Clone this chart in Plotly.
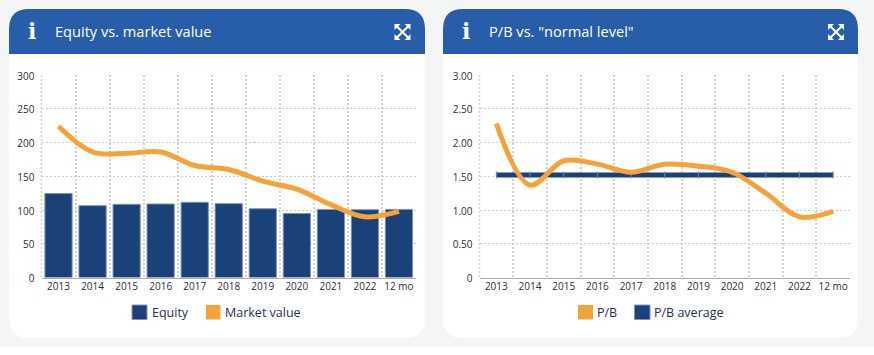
import plotly.graph_objects as go

categories = ["2013","2014","2015","2016","2017","2018","2019","2020","2021","2022","12 mo"]
equity = [124.5,106.5,108.5,109,111.5,109.5,102,95,101,100.5,101]
market_value = [224,186,184,186,166,160,143,131,108,90,98]
pb = [2.28,1.37,1.73,1.68,1.56,1.68,1.65,1.56,1.25,0.90,0.98]
pb_average = [1.52]*11
left_ticks = [0,50,100,150,200,250,300]
right_ticks = [0,0.5,1,1.5,2,2.5,3]
right_labels = ["0","0.50","1.00","1.50","2.00","2.50","3.00"]

W,H = 874,355
NAVY,ORANGE,HEAD = "#1a4178","#f4a33a","#275da9"
FONT = "Open Sans"
px = lambda v: v/W
py = lambda v: 1-v/H

def rect(x0,y0,x1,y1,fill,line=None):
    return dict(type="rect",xref="paper",yref="paper",x0=px(x0),x1=px(x1),y0=py(y0),y1=py(y1),
                fillcolor=fill,line=dict(color=line or fill,width=1 if line else 0),layer="below")

def rounded(x0,y0,x1,y1,rt,rb,fill):
    f = lambda x,y: f"{px(x)},{py(y)}"
    p = (f"M{f(x0+rt,y0)} L{f(x1-rt,y0)} Q{f(x1,y0)} {f(x1,y0+rt)} L{f(x1,y1-rb)} Q{f(x1,y1)} {f(x1-rb,y1)} "
         f"L{f(x0+rb,y1)} Q{f(x0,y1)} {f(x0,y1-rb)} L{f(x0,y0+rt)} Q{f(x0,y0)} {f(x0+rt,y0)} Z")
    return dict(type="path",xref="paper",yref="paper",path=p,fillcolor=fill,line=dict(width=0),layer="below")

def seg(x0,y0,x1,y1,w=2):
    return dict(type="line",xref="paper",yref="paper",x0=px(x0),x1=px(x1),y0=py(y0),y1=py(y1),
                line=dict(color="white",width=w),layer="above")

def tri(pts):
    f = lambda x,y: f"{px(x)},{py(y)}"
    return dict(type="path",xref="paper",yref="paper",
                path="M"+" L".join(f(*p) for p in pts)+" Z",fillcolor="white",line=dict(width=0),layer="above")

def expand(cx,cy):
    r=8
    out=[seg(cx-r+1,cy-r+1,cx+r-1,cy+r-1),seg(cx-r+1,cy+r-1,cx+r-1,cy-r+1)]
    for sx in (-1,1):
        for sy in (-1,1):
            out.append(tri([(cx+sx*r,cy+sy*r),(cx+sx*(r-6),cy+sy*r),(cx+sx*r,cy+sy*(r-6))]))
    return out

shapes=[rect(0,0,W,347,"#f4f6f6"),rect(0,347,W,H,"#ffffff")]
for x0,x1 in ((9,425),(443,858)):
    shapes.append(rounded(x0,9,x1,338,20,20,"#ffffff"))
    shapes.append(rounded(x0,9,x1,54,20,0,HEAD))
shapes+=expand(402.5,32)+expand(836,32)

top,bot=75,277.6
for edge in (41.5,479.5):
    shapes.append(dict(type="line",xref="paper",yref="paper",x0=px(edge),x1=px(edge),y0=py(top),y1=py(bot),
                       line=dict(color="#d2d2d2",width=1.5,dash="2px,2px"),layer="below"))

legend_items=[(132,147,"Equity",NAVY,"#7f93b5",151.5),(206,220.5,"Market value",ORANGE,None,224.5),
              (578,593,"P/B",ORANGE,None,597),(634.5,650,"P/B average",NAVY,"#7f93b5",653.7)]
ann=[]
def text(x,y,s,size,color,anchor="left",family=FONT):
    ann.append(dict(x=px(x),y=py(y),xref="paper",yref="paper",text=s,showarrow=False,xanchor=anchor,yanchor="middle",
                    font=dict(size=size,color=color,family=family),borderpad=0,borderwidth=0))
for a,b,s,c,l,tx in legend_items:
    shapes.append(rect(a,305,b,319.5,c,l))
    text(tx,312,s,12.5,"#1f2f4f")
text(54.5,31.5,"Equity vs. market value",14.6,"white")
text(488.5,31.5,'P/B vs. "normal level"',14.6,"white")
text(31.5,31,"<b>i</b>",22,"white","center","DejaVu Serif, serif")
text(465.5,31,"<b>i</b>",22,"white","center","DejaVu Serif, serif")

fig=go.Figure()
fig.add_bar(x=categories,y=equity,name="Equity",marker=dict(color=NAVY,line=dict(color="#7f93b5",width=1)),xaxis="x",yaxis="y")
fig.add_scatter(x=categories,y=market_value,name="Market value",mode="lines",line=dict(color=ORANGE,width=5,shape="spline",smoothing=1.0),xaxis="x",yaxis="y")
fig.add_scatter(x=categories,y=pb_average,name="P/B average",mode="lines+markers",line=dict(color=NAVY,width=5),
                marker=dict(symbol="line-ns",size=5,line=dict(color="#6f88ad",width=1)),xaxis="x2",yaxis="y2")
fig.add_scatter(x=categories,y=pb,name="P/B",mode="lines",line=dict(color=ORANGE,width=5,shape="spline",smoothing=1.0),xaxis="x2",yaxis="y2")

def xa(a,b):
    return dict(domain=[px(a),px(b)],type="category",categoryorder="array",categoryarray=categories,range=[-0.5,10.5],
                showgrid=True,gridcolor="#d2d2d2",griddash="2px,2px",gridwidth=1.5,tickson="boundaries",ticks="",tickangle=0,
                showline=True,linecolor="#aaaaaa",linewidth=1,zeroline=False,fixedrange=True,automargin=False,ticklabelstandoff=-1,
                tickfont=dict(size=10,color="#2b2b3a",family=FONT))
def ya(anchor,vals,labels):
    return dict(domain=[py(bot),py(top)],anchor=anchor,range=[0,max(vals)],tickmode="array",tickvals=vals,ticktext=labels,
                showgrid=True,gridcolor="#cccccc",griddash="2px,2px",gridwidth=1.2,zeroline=False,showline=False,ticks="",fixedrange=True,automargin=False,
                ticklabelstandoff=6,ticklabelshift=1,
                tickfont=dict(size=10,color="#2b2b3a",family=FONT))
fig.update_layout(width=W,height=H,margin=dict(l=0,r=0,t=0,b=0,autoexpand=False),autosize=False,showlegend=False,bargap=0.2,
    paper_bgcolor="rgba(0,0,0,0)",plot_bgcolor="rgba(0,0,0,0)",shapes=shapes,annotations=ann,
    xaxis=dict(xa(41.5,416),anchor="y"),yaxis=ya("x",left_ticks,[str(v) for v in left_ticks]),
    xaxis2=dict(xa(479.5,850),anchor="y2"),yaxis2=ya("x2",right_ticks,right_labels))
fig.write_html("out.html",config=dict(displayModeBar=False),post_script="document.body.style.margin='0';document.body.style.overflow='hidden';")
